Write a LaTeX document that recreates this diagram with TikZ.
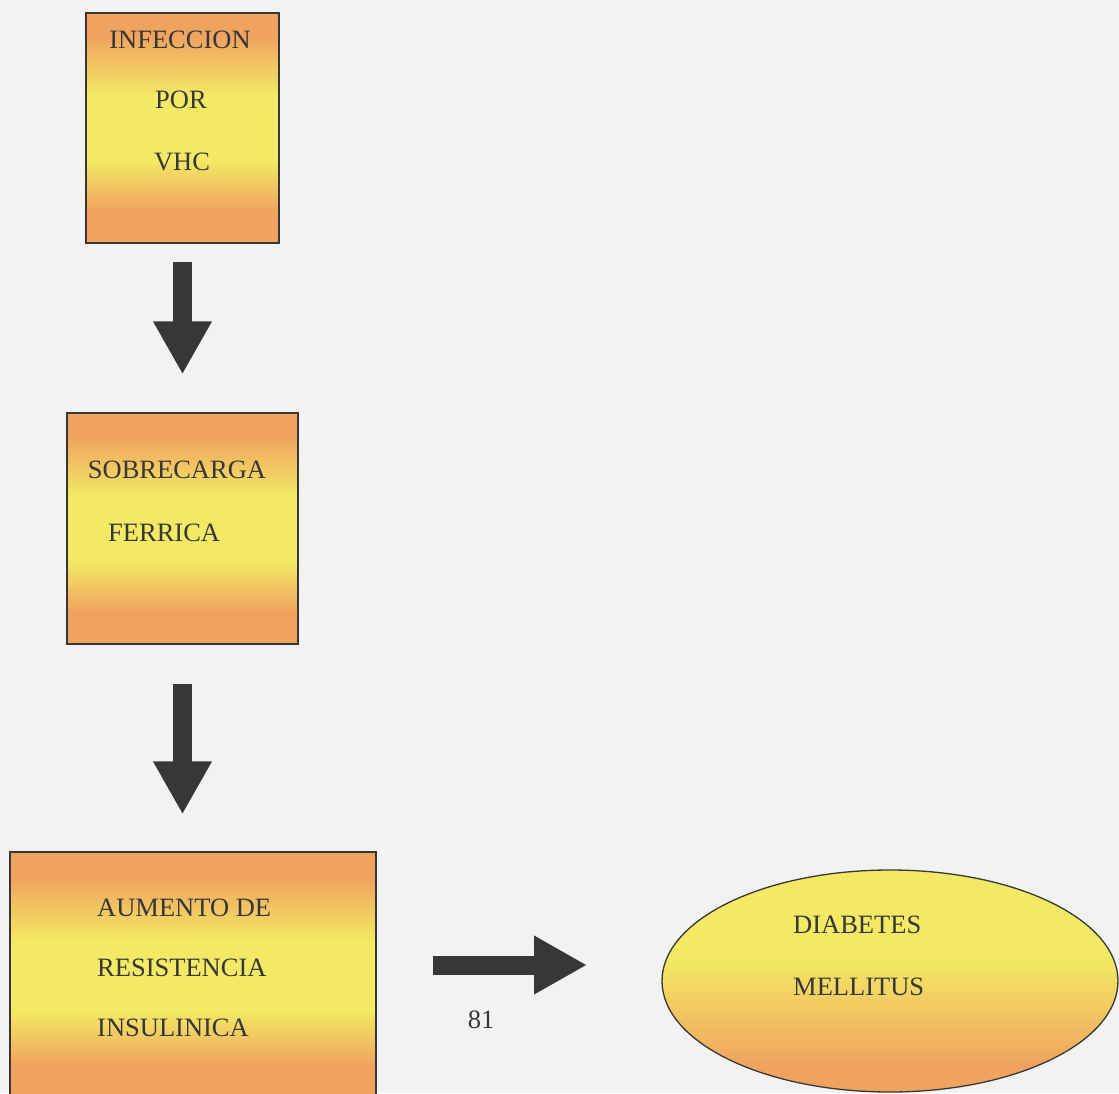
\documentclass[tikz,border=0pt]{standalone}
\usepackage{fontspec}
\setmainfont{Liberation Serif}
\usetikzlibrary{arrows.meta,shapes.geometric}
\definecolor{orng}{RGB}{240,163,95}
\definecolor{yel}{RGB}{243,233,100}
\definecolor{bg}{RGB}{242,242,241}
\definecolor{ink}{RGB}{55,55,55}
\pgfdeclareverticalshading{boxshade}{100bp}{color(0bp)=(orng); color(25bp)=(orng); color(32bp)=(orng); color(43bp)=(yel); color(57bp)=(yel); color(70bp)=(orng); color(75bp)=(orng); color(100bp)=(orng)}
\pgfdeclareverticalshading{ellshade}{100bp}{color(0bp)=(orng); color(25bp)=(orng); color(31bp)=(orng); color(55bp)=(yel); color(75bp)=(yel); color(100bp)=(yel)}
\tikzset{
  box/.style={draw=ink, line width=1.3pt, shading=boxshade, inner sep=0pt},
  ell/.style={ellipse, draw=ink, line width=1.3pt, shading=ellshade, inner sep=0pt},
  lbl/.style={font=\fontsize{26.5}{30}\selectfont, text=ink, inner sep=0pt},
  bigarr/.style={draw=ink, line width=19pt, -{Triangle[width=55pt,length=53pt]}}
}
\begin{document}
\begin{tikzpicture}[x=1pt,y=1pt]
\useasboundingbox (0,0) rectangle (1119,-1093);
\fill[bg] (0,0) rectangle (1119,-1093);
\clip (0,0) rectangle (1119,-1093);
% boxes
\node[box, minimum width=193pt, minimum height=230pt] (b1) at (182.5,-128) {};
\node[box, minimum width=231pt, minimum height=231pt] (b2) at (182.5,-528.5) {};
\node[box, minimum width=366pt, minimum height=248pt] (b3) at (193,-976) {};
\node[ell, minimum width=456pt, minimum height=222pt] (e1) at (890,-981) {};
% texts
\node[lbl] (t1) at (180,-40) {INFECCION};
\node[lbl] (t2) at (181,-100) {POR};
\node[lbl] (t3) at (182,-162) {VHC};
\node[lbl] (t4) at (177,-470) {SOBRECARGA};
\node[lbl, anchor=west] (t5) at (108,-533) {FERRICA};
\node[lbl, anchor=west] (t6) at (97,-908) {AUMENTO DE};
\node[lbl, anchor=west] (t7) at (97,-968) {RESISTENCIA};
\node[lbl, anchor=west] (t8) at (97,-1028) {INSULINICA};
\node[lbl, anchor=west] (t9) at (793,-925) {DIABETES};
\node[lbl, anchor=west] (t10) at (793,-987) {MELLITUS};
\node[lbl] (pg) at (481,-1020) {81};
% arrows
\draw[bigarr, shorten <=18pt, shorten >=38pt] (b1.south) -- (b2.north);
\draw[bigarr, shorten <=39pt, shorten >=37pt] (b2.south) -- (b2.south |- b3.north);
\coordinate (h1) at (376,-965);
\coordinate (h2) at (663,-965);
\draw[bigarr, shorten <=57pt, shorten >=76pt] (h1) -- (h2);
\end{tikzpicture}
\end{document}
